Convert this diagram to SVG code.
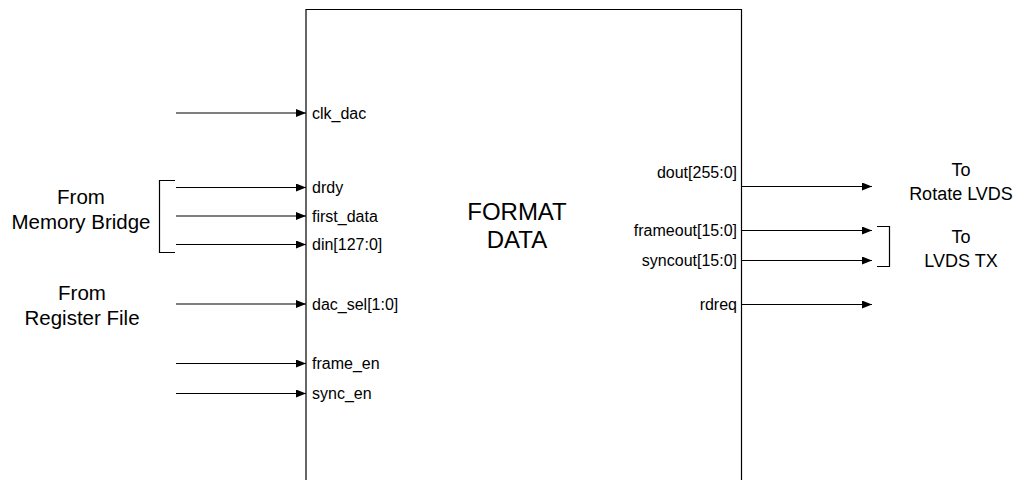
<svg xmlns="http://www.w3.org/2000/svg" width="1016" height="480" viewBox="0 0 1016 480">
  <defs>
    <marker id="arr" markerWidth="10" markerHeight="8" refX="10" refY="4" orient="auto" markerUnits="userSpaceOnUse">
      <path d="M0,0 L10,4 L0,8 Z" fill="#000"/>
    </marker>
    <style>
      .ln { stroke: #000; stroke-width: 1.2; fill: none; }
      .sig { font-family: "Liberation Sans", Arial, sans-serif; font-size: 16px; fill: #000; }
      .big { font-family: "Liberation Sans", Arial, sans-serif; font-size: 20.5px; fill: #000; text-anchor: middle; }
      .dst { font-family: "Liberation Sans", Arial, sans-serif; font-size: 18px; fill: #000; text-anchor: middle; }
      .title { font-family: "Liberation Sans", Arial, sans-serif; font-size: 24px; fill: #000; text-anchor: middle; }
    </style>
  </defs>
  <rect width="1016" height="480" fill="#fff"/>

  <!-- main block -->
  <g id="format_data">
    <path class="ln" d="M306,490 L306,9.5 L741.5,9.5 L741.5,490"/>
    <text class="title" x="517" y="220">FORMAT</text>
    <text class="title" x="517" y="248">DATA</text>
    <text class="sig" x="312" y="118.5">clk_dac</text>
    <text class="sig" x="312" y="193">drdy</text>
    <text class="sig" x="312" y="221.5">first_data</text>
    <text class="sig" x="312" y="250">din[127:0]</text>
    <text class="sig" x="312" y="309.5">dac_sel[1:0]</text>
    <text class="sig" x="312" y="369">frame_en</text>
    <text class="sig" x="312" y="399">sync_en</text>
    <text class="sig" x="737" y="178" text-anchor="end">dout[255:0]</text>
    <text class="sig" x="737" y="236" text-anchor="end">frameout[15:0]</text>
    <text class="sig" x="737" y="266" text-anchor="end">syncout[15:0]</text>
    <text class="sig" x="737" y="309.5" text-anchor="end">rdreq</text>
  </g>

  <!-- sources and destinations -->
  <g id="memory_bridge">
    <text class="big" x="81" y="204">From</text>
    <text class="big" x="81" y="229">Memory Bridge</text>
    <path class="ln" d="M175,180.5 L159.5,180.5 L159.5,252.5 L175,252.5"/>
  </g>
  <g id="register_file">
    <text class="big" x="82" y="300">From</text>
    <text class="big" x="82" y="325">Register File</text>
  </g>
  <g id="rotate_lvds">
    <text class="dst" x="961" y="176">To</text>
    <text class="dst" x="961" y="200">Rotate LVDS</text>
  </g>
  <g id="lvds_tx">
    <text class="dst" x="961" y="243">To</text>
    <text class="dst" x="961" y="267">LVDS TX</text>
    <path class="ln" d="M877,226.5 L889.5,226.5 L889.5,266.5 L877,266.5"/>
  </g>

  <!-- signal connectors -->
  <g id="connectors">
    <line class="ln" x1="176" y1="113" x2="306" y2="113" marker-end="url(#arr)"/>
    <line class="ln" x1="176" y1="187.5" x2="306" y2="187.5" marker-end="url(#arr)"/>
    <line class="ln" x1="176" y1="216" x2="306" y2="216" marker-end="url(#arr)"/>
    <line class="ln" x1="176" y1="244.5" x2="306" y2="244.5" marker-end="url(#arr)"/>
    <line class="ln" x1="176" y1="304" x2="306" y2="304" marker-end="url(#arr)"/>
    <line class="ln" x1="176" y1="363.5" x2="306" y2="363.5" marker-end="url(#arr)"/>
    <line class="ln" x1="176" y1="393.5" x2="306" y2="393.5" marker-end="url(#arr)"/>
    <line class="ln" x1="742" y1="186.5" x2="872" y2="186.5" marker-end="url(#arr)"/>
    <line class="ln" x1="742" y1="230.5" x2="872" y2="230.5" marker-end="url(#arr)"/>
    <line class="ln" x1="742" y1="260.5" x2="872" y2="260.5" marker-end="url(#arr)"/>
    <line class="ln" x1="742" y1="304.5" x2="872" y2="304.5" marker-end="url(#arr)"/>
  </g>
</svg>
